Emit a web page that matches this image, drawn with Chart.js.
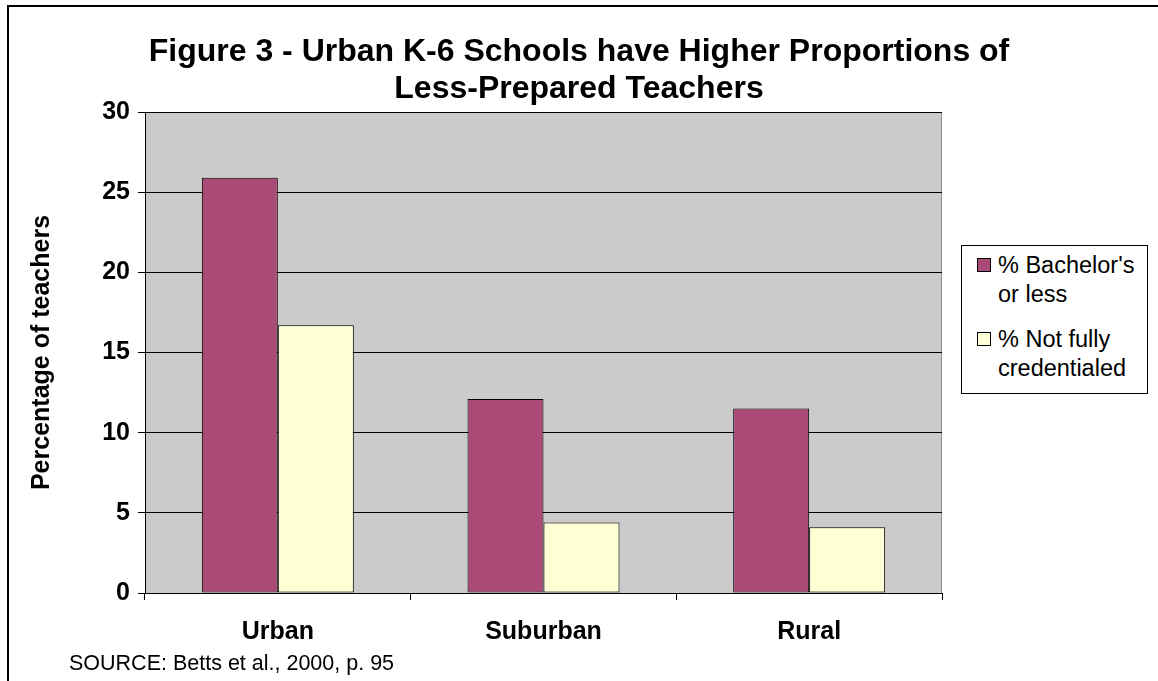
<!DOCTYPE html>
<html>
<head>
<meta charset="utf-8">
<script src="https://cdn.jsdelivr.net/npm/chart.js@4.4.1/dist/chart.umd.min.js"></script>
<style>
  html, body { margin: 0; padding: 0; background: #fff; }
  #wrap { position: relative; width: 1158px; height: 681px; overflow: hidden; font-family: "Liberation Sans", Arial, sans-serif; color: #000; }
  #frame { position: absolute; left: 7px; top: 5px; width: 1300px; height: 900px; border-left: 2px solid #000; border-top: 2px solid #000; }
  #chart { position: absolute; left: 0; top: 0; }
  #title { position: absolute; left: 0; width: 1158px; top: 32px; text-align: center; font-weight: bold; font-size: 32px; line-height: 37px; }
  #legend { position: absolute; left: 961px; top: 245px; width: 185px; height: 147px; border: 1px solid #000; background: #fff; box-sizing: content-box; }
  .item { position: absolute; left: 15px; font-size: 23.5px; line-height: 29px; }
  .sw { position: absolute; left: 0; top: 7px; width: 12px; height: 12px; border: 1px solid #000; }
  .txt { position: absolute; left: 21px; white-space: nowrap; }
  #source { position: absolute; left: 69px; top: 651px; font-size: 21.5px; line-height: 24px; white-space: nowrap; }
</style>
</head>
<body>
<div id="wrap">
  <div id="frame"></div>
  <canvas id="chart" width="1158" height="681"></canvas>
  <div id="title">Figure 3 - Urban K-6 Schools have Higher Proportions of<br>Less-Prepared Teachers</div>
  <div id="legend"></div>
  <div id="source">SOURCE: Betts et al., 2000, p. 95</div>
</div>
<script>
const categories = ["Urban", "Suburban", "Rural"];
const bachelorOrLess = [25.9, 12.1, 11.5];
const notFullyCredentialed = [16.7, 4.4, 4.1];
const yTicks = [0, 5, 10, 15, 20, 25, 30];
const seriesNames = [["% Bachelor's", "or less"], ["% Not fully", "credentialed"]];
const seriesColors = ["#aa4a76", "#ffffd4"];

const fontFamily = "'Liberation Sans', Arial, sans-serif";

// grey plot area with thin border top/right, like the old spreadsheet chart
const plotBackground = {
    id: "plotBackground",
    beforeDraw(chart) {
        const a = chart.chartArea;
        const ctx = chart.ctx;
        ctx.save();
        ctx.fillStyle = "#cbcbcb";
        ctx.fillRect(a.left, a.top, a.right - a.left, a.bottom - a.top);
        ctx.strokeStyle = "#8c8c8c";
        ctx.lineWidth = 1;
        ctx.beginPath();
        ctx.moveTo(a.left, a.top + 0.5);
        ctx.lineTo(a.right - 0.5, a.top + 0.5);
        ctx.lineTo(a.right - 0.5, a.bottom);
        ctx.stroke();
        ctx.restore();
    }
};

var chart = new Chart(document.getElementById("chart"), {
    type: "bar",
    data: {
        labels: categories,
        datasets: [
            {
                label: seriesNames[0].join(" "),
                data: bachelorOrLess,
                backgroundColor: seriesColors[0],
                borderColor: "#000",
                borderWidth: 1,
                borderSkipped: false
            },
            {
                label: seriesNames[1].join(" "),
                data: notFullyCredentialed,
                backgroundColor: seriesColors[1],
                borderColor: "#000",
                borderWidth: 1,
                borderSkipped: false
            }
        ]
    },
    options: {
        responsive: false,
        animation: false,
        devicePixelRatio: 1,
        layout: { padding: { left: 0, top: 112, right: 216, bottom: 0 } },
        datasets: { bar: { categoryPercentage: 0.572, barPercentage: 1.0 } },
        plugins: {
            legend: { display: false },
            title: { display: false },
            tooltip: { enabled: false }
        },
        scales: {
            x: {
                grid: { offset: true, drawOnChartArea: false, tickLength: 7, color: "#000" },
                border: { color: "#000", width: 1 },
                ticks: { color: "#000", padding: 17, font: { family: fontFamily, size: 25, weight: "bold" } },
                afterFit: function(s) { s.height = 88; }
            },
            y: {
                min: 0,
                max: 30,
                afterBuildTicks: function(s) { s.ticks = yTicks.map(function(v) { return { value: v }; }); },
                grid: { color: "#000", lineWidth: 1, tickLength: 7 },
                border: { color: "#000", width: 1 },
                ticks: { color: "#000", padding: 8, font: { family: fontFamily, size: 25, weight: "bold" } },
                title: {
                    display: true,
                    text: "Percentage of teachers",
                    color: "#000",
                    font: { family: fontFamily, size: 25, weight: "bold" },
                    padding: { top: 27, bottom: 0 }
                },
                afterFit: function(s) { s.width = 145; }
            }
        }
    },
    plugins: [plotBackground]
});

// legend box drawn from the dataset colours and names
var legend = document.getElementById("legend");
var tops = [5, 79];
seriesNames.forEach(function(lines, i) {
    var item = document.createElement("div");
    item.className = "item";
    item.style.top = tops[i] + "px";
    var sw = document.createElement("div");
    sw.className = "sw";
    sw.style.background = chart.data.datasets[i].backgroundColor;
    var txt = document.createElement("div");
    txt.className = "txt";
    txt.innerHTML = lines.join("<br>");
    item.append(sw);
    item.append(txt);
    legend.append(item);
});
</script>
</body>
</html>
